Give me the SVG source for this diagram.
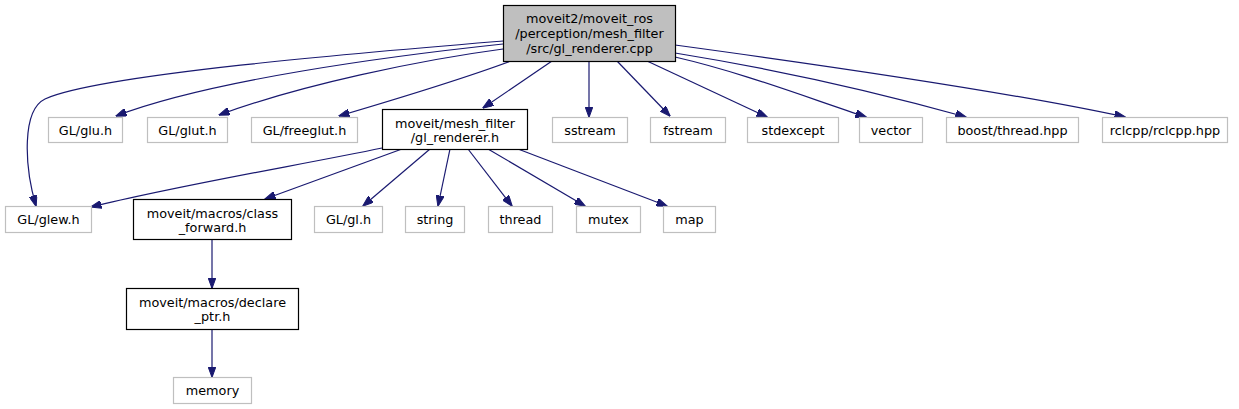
<svg xmlns="http://www.w3.org/2000/svg" width="1239" height="409" viewBox="0 0 1239 409">
<defs>
<marker id="ah" markerUnits="userSpaceOnUse" markerWidth="11" markerHeight="8" refX="10.5" refY="4" orient="auto">
<path d="M0,0 L11,4 L0,8 z" fill="#191970" stroke="#191970" stroke-width="1"/>
</marker>
<style>
.e{fill:none;stroke:#191970;stroke-width:1.2;marker-end:url(#ah)}
.g{fill:#fff;stroke:#bfbfbf;stroke-width:1.2}
.b{fill:#fff;stroke:#000;stroke-width:1.2}
.r{fill:#bfbfbf;stroke:#000;stroke-width:1.2}
text{font-family:"DejaVu Sans",sans-serif;font-size:12.8px;fill:#000;text-anchor:middle}
</style>
</defs>
<rect width="1239" height="409" fill="#fff"/>
<g id="edges">
<path class="e" d="M503,41 C370,52 100,74 45,99 C22,110 24,165 36,206"/>
<path class="e" d="M503,44 C390,56 210,80 116,116"/>
<path class="e" d="M503,49 C420,60 300,85 219,115"/>
<path class="e" d="M511,61 C460,80 400,98 339,116"/>
<path class="e" d="M552,61 L483,108"/>
<path class="e" d="M589,61 L589,117"/>
<path class="e" d="M617,61 L670,116"/>
<path class="e" d="M647,61 L767,117"/>
<path class="e" d="M675,57 C740,72 800,95 866,117"/>
<path class="e" d="M675,53 C780,70 880,93 966,117"/>
<path class="e" d="M675,45 C800,62 1000,90 1125,117"/>
<path class="e" d="M382,148 C300,165 180,185 91,207"/>
<path class="e" d="M402,149 L265,199"/>
<path class="e" d="M430,149 L363,206"/>
<path class="e" d="M450,149 L438,206"/>
<path class="e" d="M468,149 L512,206"/>
<path class="e" d="M488,149 L585,206"/>
<path class="e" d="M518,149 L667,206"/>
<path class="e" d="M212,239 L212,288"/>
<path class="e" d="M212,329 L212,377"/>
</g>
<g id="root"><rect class="r" x="503.5" y="5.5" width="172" height="56"/><text x="589.5" y="22.5">moveit2/moveit_ros</text><text x="589.5" y="37.5">/perception/mesh_filter</text><text x="589.5" y="52.5">/src/gl_renderer.cpp</text></g>
<g id="glew"><rect class="g" x="5.5" y="206.5" width="86" height="26"/><text x="48.5" y="224">GL/glew.h</text></g>
<g id="glu"><rect class="g" x="48.5" y="117.5" width="74" height="25"/><text x="85.5" y="134.5">GL/glu.h</text></g>
<g id="glut"><rect class="g" x="147.5" y="117.5" width="80" height="25"/><text x="187.5" y="134.5">GL/glut.h</text></g>
<g id="freeglut"><rect class="g" x="251.5" y="117.5" width="106" height="25"/><text x="304.5" y="134.5">GL/freeglut.h</text></g>
<g id="glrenderer"><rect class="b" x="382.5" y="109.5" width="145" height="40"/><text x="455" y="127.5">moveit/mesh_filter</text><text x="455" y="141.5">/gl_renderer.h</text></g>
<g id="sstream"><rect class="g" x="552.5" y="117.5" width="75" height="25"/><text x="590" y="134.5">sstream</text></g>
<g id="fstream"><rect class="g" x="650.5" y="117.5" width="75" height="25"/><text x="688" y="134.5">fstream</text></g>
<g id="stdexcept"><rect class="g" x="747.5" y="117.5" width="91" height="25"/><text x="793" y="134.5">stdexcept</text></g>
<g id="vector"><rect class="g" x="859.5" y="117.5" width="63" height="25"/><text x="891" y="134.5">vector</text></g>
<g id="boostthread"><rect class="g" x="946.5" y="117.5" width="132" height="25"/><text x="1012.5" y="134.5">boost/thread.hpp</text></g>
<g id="rclcpp"><rect class="g" x="1102.5" y="117.5" width="125" height="25"/><text x="1165" y="134.5">rclcpp/rclcpp.hpp</text></g>
<g id="classforward"><rect class="b" x="133.5" y="199.5" width="158" height="40"/><text x="212.5" y="217.5">moveit/macros/class</text><text x="212.5" y="231.5">_forward.h</text></g>
<g id="glgl"><rect class="g" x="314.5" y="206.5" width="68" height="26"/><text x="348.5" y="224">GL/gl.h</text></g>
<g id="string"><rect class="g" x="405.5" y="206.5" width="59" height="26"/><text x="435" y="224">string</text></g>
<g id="thread"><rect class="g" x="488.5" y="206.5" width="64" height="26"/><text x="520.5" y="224">thread</text></g>
<g id="mutex"><rect class="g" x="576.5" y="206.5" width="64" height="26"/><text x="608.5" y="224">mutex</text></g>
<g id="map"><rect class="g" x="663.5" y="206.5" width="52" height="26"/><text x="689.5" y="224">map</text></g>
<g id="declareptr"><rect class="b" x="126.5" y="288.5" width="172" height="41"/><text x="212.5" y="306.5">moveit/macros/declare</text><text x="212.5" y="320.5">_ptr.h</text></g>
<g id="memory"><rect class="g" x="173.5" y="377.5" width="78" height="26"/><text x="212.5" y="395">memory</text></g>
</svg>
